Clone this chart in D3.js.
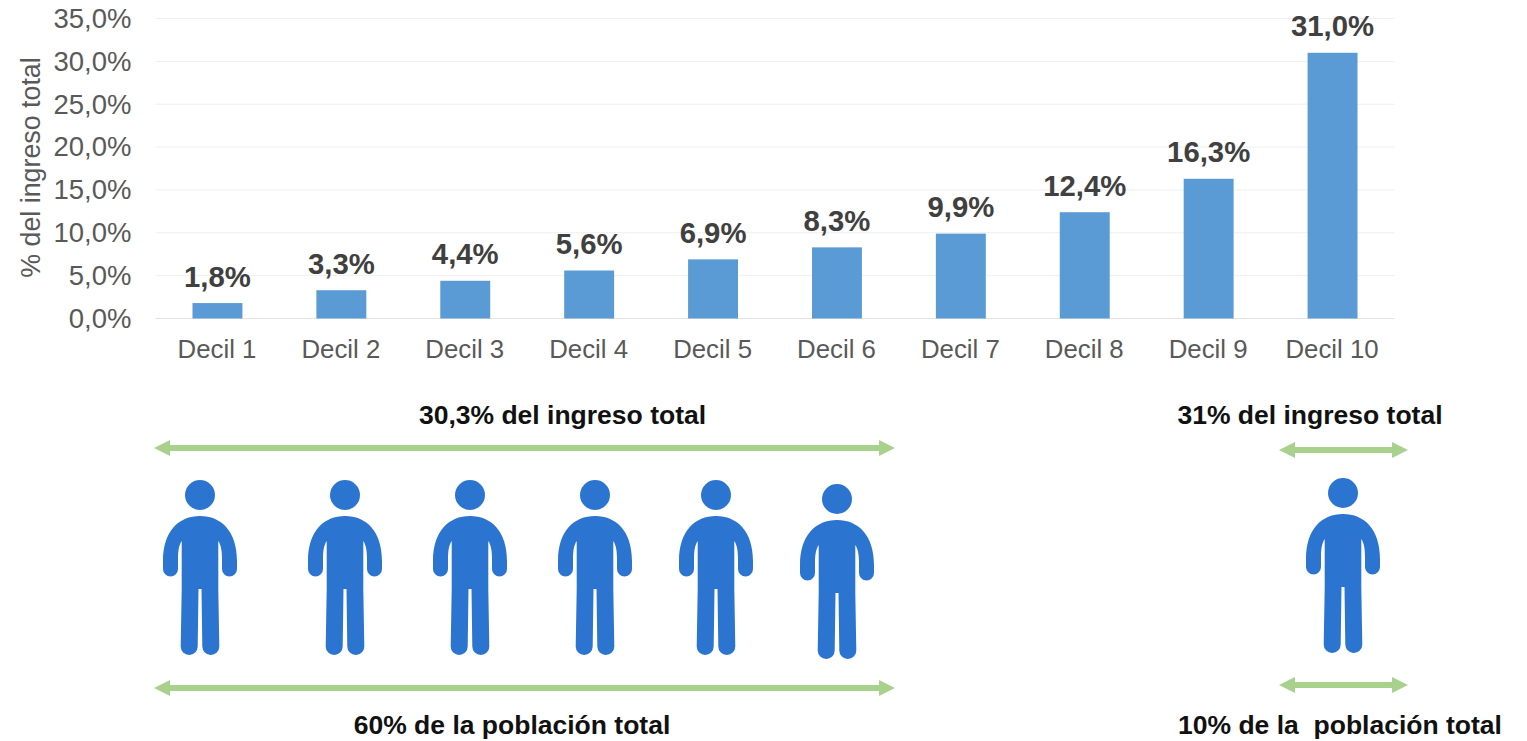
<!DOCTYPE html>
<html>
<head>
<meta charset="utf-8">
<script src="https://cdn.jsdelivr.net/npm/d3@7"></script>
<style>
  html, body { margin: 0; padding: 0; background: #fff; }
  svg { display: block; font-family: "Liberation Sans", Arial, sans-serif; }
</style>
</head>
<body>
<div id="chart"></div>
<script>
// data
var deciles = ["Decil 1", "Decil 2", "Decil 3", "Decil 4", "Decil 5", "Decil 6", "Decil 7", "Decil 8", "Decil 9", "Decil 10"];
var shares = [1.8, 3.3, 4.4, 5.6, 6.9, 8.3, 9.9, 12.4, 16.3, 31.0];
var yTicks = [0, 5, 10, 15, 20, 25, 30, 35];

var width = 1527, height = 741;
var margin = {top: 18.5, right: 132.5, bottom: 422.5, left: 155.5};
var innerW = width - margin.left - margin.right,
    innerH = height - margin.top - margin.bottom;

var fmt = function(v) { return v.toFixed(1).replace(".", ",") + "%"; };

var svg = d3.select("#chart")
  .append("svg")
    .attr("width", width)
    .attr("height", height);

var g = svg.append("g")
    .attr("transform", "translate(" + margin.left + "," + margin.top + ")");

var x = d3.scaleBand()
    .domain(deciles)
    .range([0, innerW])
    .paddingInner(0.597)
    .paddingOuter(0.2985);

var y = d3.scaleLinear()
    .domain([0, 35])
    .range([innerH, 0]);

// gridlines
g.selectAll("line.grid")
  .data(yTicks)
  .enter().append("line")
    .attr("class", "grid")
    .attr("x1", 0)
    .attr("x2", innerW)
    .attr("y1", function(d) { return y(d); })
    .attr("y2", function(d) { return y(d); })
    .attr("stroke", function(d) { return d === 0 ? "#e2e2e2" : "#efefef"; })
    .attr("stroke-width", 1);

// y axis
var yAxis = g.append("g")
    .call(d3.axisLeft(y).tickValues(yTicks).tickFormat(fmt).tickSize(0).tickPadding(24));
yAxis.select(".domain").remove();
yAxis.selectAll("text")
    .attr("fill", "#595959")
    .style("font-size", "27.5px");

// x axis
var xAxis = g.append("g")
    .attr("transform", "translate(0," + innerH + ")")
    .call(d3.axisBottom(x).tickSize(0).tickPadding(21));
xAxis.select(".domain").remove();
xAxis.selectAll("text")
    .attr("fill", "#595959")
    .attr("dx", -0.5)
    .style("font-size", "25.8px");

// y title
svg.append("text")
    .attr("transform", "translate(40,167.5) rotate(-90)")
    .attr("text-anchor", "middle")
    .attr("fill", "#595959")
    .style("font-size", "26.8px")
    .text("% del ingreso total");

// bars
g.selectAll("rect.bar")
  .data(shares)
  .enter().append("rect")
    .attr("class", "bar")
    .attr("x", function(d, i) { return x(deciles[i]); })
    .attr("y", function(d) { return y(d); })
    .attr("width", x.bandwidth())
    .attr("height", function(d) { return innerH - y(d); })
    .attr("fill", "#5b9bd5");

// bar labels
g.selectAll("text.val")
  .data(shares)
  .enter().append("text")
    .attr("class", "val")
    .attr("x", function(d, i) { return x(deciles[i]) + x.bandwidth() / 2; })
    .attr("y", function(d) { return y(d) - 16.5; })
    .attr("text-anchor", "middle")
    .attr("fill", "#404040")
    .style("font-size", "29.3px")
    .style("font-weight", "bold")
    .text(fmt);

// lower panel: people and arrows
var personPath = "M0,21 C21,21 37,36 37,66 L37,74 A7.5,7.5 0 0 1 22,74 L22,64 C22,56 21,50 18.3,46 " +
  "L18.3,94 L19.3,151.5 A8.5,8.5 0 0 1 2.3,151.5 L1.5,94 L-1.5,94 L-2.3,151.5 A8.5,8.5 0 0 1 -19.3,151.5 " +
  "L-18.3,94 L-18.3,46 C-21,50 -22,56 -22,64 L-22,74 A7.5,7.5 0 0 1 -37,74 L-37,66 C-37,36 -21,21 0,21 Z";

var people = [[200, 495], [345, 495], [470, 495], [595, 495], [716, 495], [837, 499], [1343, 493]];

var person = svg.selectAll("g.person")
  .data(people)
  .enter().append("g")
    .attr("class", "person")
    .attr("transform", function(d) { return "translate(" + d[0] + "," + d[1] + ")"; })
    .attr("fill", "#2b75d0");
person.append("circle").attr("r", 15);
person.append("path").attr("d", personPath);

function arrow(x0, x1, yy) {
  var head = 16, half = 8, t = 3;
  var pts = [[x0, yy], [x0 + head, yy - half], [x0 + head, yy - t], [x1 - head, yy - t], [x1 - head, yy - half],
             [x1, yy], [x1 - head, yy + half], [x1 - head, yy + t], [x0 + head, yy + t], [x0 + head, yy + half]];
  svg.append("path")
    .attr("d", d3.line()(pts) + "Z")
    .attr("fill", "#a9d18e");
}
arrow(154, 895, 448);
arrow(1279, 1408, 450);
arrow(154, 895, 688);
arrow(1279, 1408, 685);

var notes = [
  {t: "30,3% del ingreso total", x: 562.5, y: 424},
  {t: "31% del ingreso total", x: 1310, y: 424},
  {t: "60% de la población total", x: 512, y: 734},
  {t: "10% de la  población total", x: 1340, y: 734}
];
svg.selectAll("text.note")
  .data(notes)
  .enter().append("text")
    .attr("class", "note")
    .attr("x", function(d) { return d.x; })
    .attr("y", function(d) { return d.y; })
    .attr("text-anchor", "middle")
    .attr("fill", "#111")
    .style("font-size", "26.5px")
    .style("font-weight", "bold")
    .style("white-space", "pre")
    .text(function(d) { return d.t; });
</script>
</body>
</html>
